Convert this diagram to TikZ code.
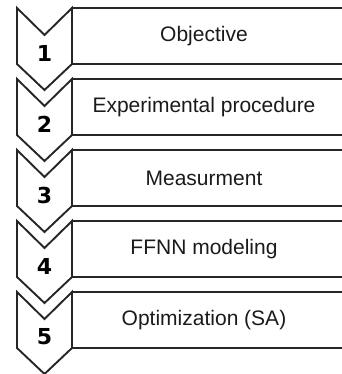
\documentclass[tikz,border=0pt]{standalone}
\usepackage{fontspec}
\setmainfont{Liberation Sans}
\newfontfamily\numfont{DejaVu Sans}
\usepackage{xcolor}
\definecolor{stepLine}{HTML}{262626}
\definecolor{stepText}{HTML}{1A1A1A}
\usetikzlibrary{positioning,calc}
\tikzset{
    chevron/.style={
        draw=stepLine,
        fill=white,
        line width=1.9pt,
        line join=miter
    },
    stepbox/.style={
        draw=stepLine,
        line width=1.9pt
    },
    stepnum/.style={
        font=\numfont\bfseries\fontsize{22}{22}\selectfont,
        text=black,
        inner sep=0pt
    },
    steptext/.style={
        font=\fontsize{21}{24}\selectfont,
        text=stepText,
        inner sep=0pt
    }
}

\begin{document}
\begin{tikzpicture}[x=1pt,y=-1pt]
    \useasboundingbox (0,0) rectangle (341,374);
    % Steps
    \foreach \lbl [count=\i] in {Objective, Experimental procedure, Measurment, FFNN modeling, Optimization (SA)} {
        \pgfmathsetmacro{\ytop}{8+71*(\i-1)}
        % chevron
        \draw[chevron] (17,\ytop) -- (44.5,\ytop+27) -- (72,\ytop) -- (72,\ytop+56)
            -- (44.5,\ytop+82) -- (17,\ytop+56) -- cycle;
        % box, open on the right
        \draw[stepbox] (342,\ytop) -- (72,\ytop) -- (72,\ytop+56) -- (342,\ytop+56);
        \node[stepnum] (num\i) at (44.5,\ytop+45) {\i};
        \node[steptext] (step\i) at (204,\ytop+28) {\lbl};
    }
\end{tikzpicture}
\end{document}
